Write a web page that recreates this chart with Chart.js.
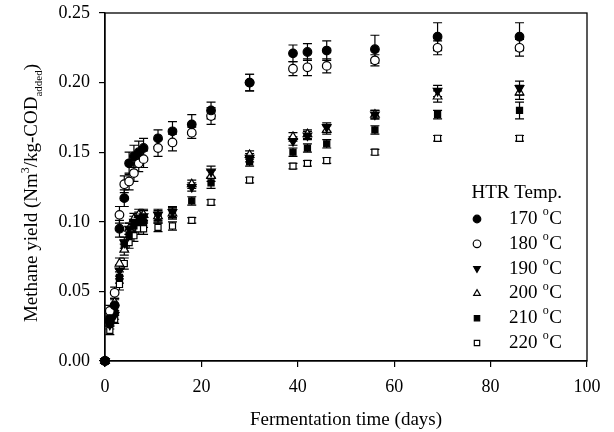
<!DOCTYPE html>
<html><head><meta charset="utf-8">
<script src="https://cdn.jsdelivr.net/npm/chart.js@4/dist/chart.umd.min.js"></script>
<style>html,body{margin:0;padding:0;background:#fff;}#wrap{width:614px;height:432px;position:relative;}</style>
</head><body><div id="wrap"><canvas id="c" width="614" height="432"></canvas></div>
<script>
const days = [0,1,2,3,4,5,6,7,8,11,14,18,22,30,39,42,46,56,69,86];
const y170 = [0,0.030,0.040,0.095,0.117,0.142,0.147,0.150,0.153,0.160,0.165,0.170,0.180,0.200,0.221,0.222,0.223,0.224,0.233,0.233];
const e170 = [0,0.004,0.004,0.006,0.006,0.008,0.008,0.008,0.007,0.006,0.007,0.007,0.006,0.006,0.006,0.006,0.007,0.010,0.010,0.010];
const y180 = [0,0.036,0.049,0.105,0.127,0.129,0.135,0.142,0.145,0.153,0.157,0.164,0.176,0.200,0.210,0.211,0.212,0.216,0.225,0.225];
const e180 = [0,0.004,0.004,0.006,0.006,0.006,0.006,0.006,0.006,0.006,0.006,0.004,0.006,0.006,0.005,0.006,0.005,0.004,0.005,0.006];
const y190 = [0,0.026,0.033,0.065,0.085,0.095,0.100,0.103,0.104,0.105,0.107,0.125,0.136,0.146,0.158,0.162,0.168,0.177,0.194,0.196];
const e190 = [0,0.003,0.003,0.004,0.004,0.004,0.004,0.004,0.004,0.004,0.004,0.003,0.004,0.003,0.003,0.003,0.003,0.003,0.004,0.005];
const y200 = [0,0.030,0.042,0.070,0.080,0.095,0.102,0.105,0.105,0.104,0.106,0.127,0.133,0.148,0.161,0.163,0.166,0.177,0.190,0.193];
const e200 = [0,0.003,0.003,0.004,0.004,0.004,0.004,0.004,0.004,0.004,0.004,0.003,0.004,0.003,0.003,0.003,0.003,0.003,0.004,0.005];
const y210 = [0,0.028,0.036,0.060,0.083,0.090,0.097,0.100,0.100,0.103,0.106,0.115,0.128,0.143,0.150,0.153,0.156,0.166,0.177,0.180];
const e210 = [0,0.003,0.003,0.004,0.004,0.004,0.004,0.004,0.004,0.004,0.004,0.003,0.004,0.003,0.003,0.003,0.003,0.003,0.003,0.006];
const y220 = [0,0.022,0.030,0.055,0.070,0.085,0.090,0.095,0.095,0.096,0.097,0.101,0.114,0.130,0.140,0.142,0.144,0.150,0.160,0.160];
const e220 = [0,0.003,0.003,0.004,0.004,0.004,0.004,0.004,0.004,0.003,0.003,0.002,0.002,0.002,0.002,0.002,0.002,0.002,0.002,0.002];
const seriesLabels = ['170','180','190','200','210','220'];
const xTicks = [0,20,40,60,80,100];
const yTicks = [0,0.05,0.10,0.15,0.20,0.25];

const FONT = "'Liberation Serif', 'Times New Roman', serif";
const styles = [
  {ps:'circle', fill:'#000', rot:0},
  {ps:'circle', fill:'#fff', rot:0},
  {ps:'triangle', fill:'#000', rot:180},
  {ps:'triangle', fill:'#fff', rot:0},
  {ps:'rect', fill:'#000', rot:0},
  {ps:'rect', fill:'#fff', rot:0}
];
const ys = [y170,y180,y190,y200,y210,y220];
const es = [e170,e180,e190,e200,e210,e220];

const datasets = ys.map((arr,i)=>({
  label: seriesLabels[i],
  data: days.map((d,j)=>({x:d, y:arr[j]})),
  errs: es[i],
  showLine:false,
  pointStyle: styles[i].ps,
  pointRotation: styles[i].rot,
  pointRadius: styles[i].ps==='triangle'?5:4.3,
  pointBackgroundColor: styles[i].fill,
  pointBorderColor:'#000',
  pointBorderWidth:1.2,
  clip:false
}));

const errPlugin = {
  id:'err',
  beforeDatasetsDraw(chart){
    const ctx = chart.ctx, xs = chart.scales.x, ysc = chart.scales.y;
    ctx.save(); ctx.strokeStyle='#000'; ctx.lineWidth=1.2;
    chart.data.datasets.forEach(ds=>{
      ds.data.forEach((p,j)=>{
        const e = ds.errs[j]; if(!e) return;
        const px = xs.getPixelForValue(p.x);
        const t = ysc.getPixelForValue(p.y+e), b = ysc.getPixelForValue(p.y-e);
        ctx.beginPath();
        ctx.moveTo(px,t); ctx.lineTo(px,b);
        ctx.moveTo(px-4.5,t); ctx.lineTo(px+4.5,t);
        ctx.moveTo(px-4.5,b); ctx.lineTo(px+4.5,b);
        ctx.stroke();
      });
    });
    ctx.restore();
  }
};

const decoPlugin = {
  id:'deco',
  afterDraw(chart){
    const ctx = chart.ctx, a = chart.chartArea;
    ctx.save();
    ctx.strokeStyle='#000'; ctx.lineWidth=1.3;
    ctx.strokeRect(a.left, a.top, a.right-a.left, a.bottom-a.top);
    ctx.fillStyle='#000';
    ctx.font = '19px '+FONT; ctx.textAlign='center'; ctx.textBaseline='alphabetic';
    ctx.fillText('Fermentation time (days)', (a.left+a.right)/2, 425);
    const parts = [
      {t:'Methane yield (Nm', f:19, dy:0},
      {t:'3', f:12, dy:-8},
      {t:'/kg-COD', f:19, dy:0},
      {t:'added', f:11, dy:5},
      {t:')', f:19, dy:0}
    ];
    let total = 0;
    parts.forEach(p=>{ctx.font=p.f+'px '+FONT; p.w=ctx.measureText(p.t).width; total+=p.w;});
    ctx.translate(37, (a.top+a.bottom)/2+6);
    ctx.rotate(-Math.PI/2);
    ctx.textAlign='left';
    let x = -total/2;
    parts.forEach(p=>{ctx.font=p.f+'px '+FONT; ctx.fillText(p.t, x, p.dy); x+=p.w;});
    ctx.restore();
    ctx.save();
    ctx.fillStyle='#000';
    ctx.font='19px '+FONT; ctx.textAlign='right'; ctx.textBaseline='middle';
    const rx = 562;
    ctx.fillText('HTR Temp.', rx, 193);
    chart.data.datasets.forEach((ds,i)=>{
      const yy = 219 + i*24.8;
      ctx.font='19px '+FONT;
      const wC = ctx.measureText('C').width;
      ctx.fillText('C', rx, yy);
      ctx.font='12px '+FONT;
      const wo = ctx.measureText('o').width;
      ctx.fillText('o', rx-wC-0.5, yy-7);
      ctx.font='19px '+FONT;
      ctx.fillText(ds.label+' ', rx-wC-wo-1, yy);
      ctx.fillStyle = ds.pointBackgroundColor; ctx.strokeStyle='#000'; ctx.lineWidth=1.2;
      Chart.helpers.drawPoint(ctx, {pointStyle:ds.pointStyle, rotation:ds.pointRotation, radius:3.8, borderWidth:1.2}, 477, yy);
      ctx.fillStyle='#000';
    });
    ctx.restore();
  }
};

new Chart(document.getElementById('c'), {
  type:'scatter',
  data:{datasets},
  options:{
    responsive:false, animation:false,
    layout:{padding:{top:13,right:27,left:0,bottom:0}},
    plugins:{legend:{display:false}, tooltip:{enabled:false}},
    scales:{
      x:{
        type:'linear', min:0, max:100,
        afterBuildTicks(s){s.ticks = xTicks.map(v=>({value:v}));},
        afterFit(s){s.height=71; s.paddingLeft=0; s.paddingRight=0;},
        grid:{drawOnChartArea:false, drawTicks:true, tickLength:6, color:'#000', lineWidth:1.2},
        border:{display:true, color:'#000', width:1.3},
        ticks:{color:'#000', font:{family:FONT, size:18}, padding:9, maxRotation:0, callback:v=>String(v)}
      },
      y:{
        type:'linear', min:0, max:0.25,
        afterBuildTicks(s){s.ticks = yTicks.map(v=>({value:v}));},
        afterFit(s){s.width=105; s.paddingTop=0; s.paddingBottom=0;},
        grid:{drawOnChartArea:false, drawTicks:true, tickLength:6, color:'#000', lineWidth:1.2},
        border:{display:true, color:'#000', width:1.3},
        ticks:{color:'#000', font:{family:FONT, size:18}, padding:9, callback:v=>Number(v).toFixed(2)}
      }
    }
  },
  plugins:[errPlugin, decoPlugin]
});
</script>
</body></html>
